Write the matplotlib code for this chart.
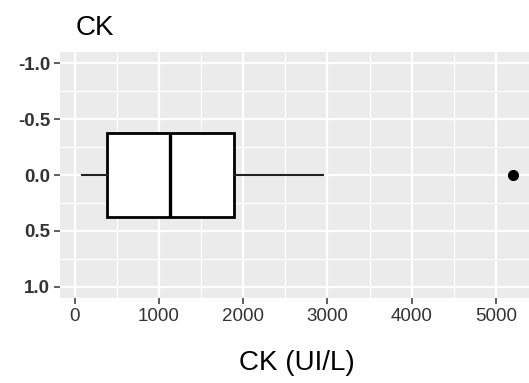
import matplotlib.pyplot as plt

plt.rcParams['font.family'] = ['Liberation Sans', 'DejaVu Sans']

# box summary for CK (UI/L)
ck_whislo = 90
ck_q1 = 390
ck_median = 1130
ck_q3 = 1890
ck_whishi = 2950
ck_outliers = [5200]

x_ticks = [0, 1000, 2000, 3000, 4000, 5000]
y_ticks = [-1.0, -0.5, 0.0, 0.5, 1.0]

W, H = 529, 383
fig = plt.figure(figsize=(W / 100, H / 100), dpi=100)
ax = fig.add_axes([60 / W, 1 - 298 / H, 475 / W, 246 / H])

ax.set_facecolor('#EBEBEB')
for s in ax.spines.values():
    s.set_visible(False)

stats = [dict(med=ck_median, q1=ck_q1, q3=ck_q3,
              whislo=ck_whislo, whishi=ck_whishi, fliers=ck_outliers)]
ax.bxp(stats, positions=[0], widths=0.75, vert=False, showcaps=False,
       patch_artist=True,
       boxprops=dict(facecolor='white', edgecolor='black', linewidth=2.0),
       medianprops=dict(color='black', linewidth=2.4),
       whiskerprops=dict(color='#222222', linewidth=1.5),
       flierprops=dict(marker='o', markerfacecolor='black',
                       markeredgecolor='black', markersize=7))

ax.set_xticks(x_ticks)
ax.set_xticklabels([str(t) for t in x_ticks])
ax.set_yticks(y_ticks)
ax.set_yticklabels(['%.1f' % t for t in y_ticks])
ax.set_xticks([t + 500 for t in [-1000] + x_ticks], minor=True)
ax.set_yticks([-0.75, -0.25, 0.25, 0.75], minor=True)

# limits after ticks so the minor ticks do not widen the view
ax.set_xlim(-173, 5463)
ax.set_ylim(1.1, -1.1)

ax.grid(which='major', color='white', linewidth=1.6)
ax.grid(which='minor', color='white', linewidth=0.8)
ax.set_axisbelow(True)

ax.tick_params(which='major', length=4, width=1.1, color='#333333',
               labelcolor='#333333', labelsize=13.5, pad=3)
ax.tick_params(which='minor', length=0)
for lbl in ax.get_yticklabels():
    lbl.set_fontweight('bold')

fig.text(76 / W, 1 - 35 / H, 'CK', fontsize=20, ha='left', va='baseline')
fig.text(297 / W, 1 - 370 / H, 'CK (UI/L)', fontsize=20, ha='center',
         va='baseline')

fig.savefig('out.png', dpi=100)
